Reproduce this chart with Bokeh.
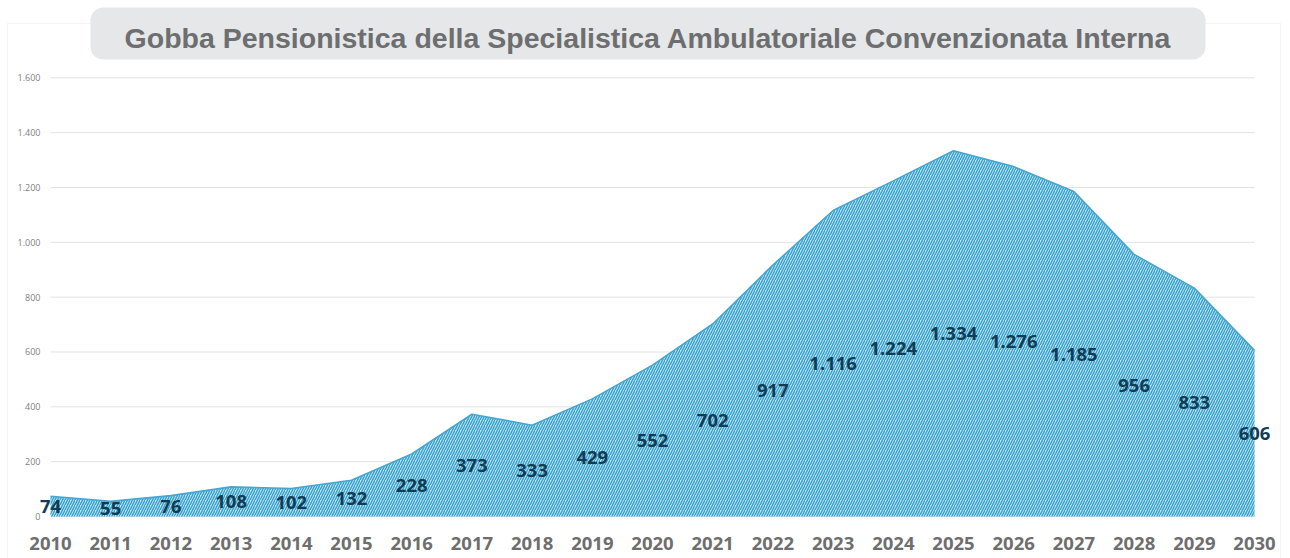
from bokeh.plotting import figure
from bokeh.models import ColumnDataSource, Label, BoxAnnotation, Range1d
from bokeh.core.properties import value
from bokeh.embed import file_html
from bokeh.resources import INLINE

title_text = "Gobba Pensionistica della Specialistica Ambulatoriale Convenzionata Interna"
years = [2010, 2011, 2012, 2013, 2014, 2015, 2016, 2017, 2018, 2019, 2020,
         2021, 2022, 2023, 2024, 2025, 2026, 2027, 2028, 2029, 2030]
values = [74, 55, 76, 108, 102, 132, 228, 373, 333, 429, 552,
          702, 917, 1116, 1224, 1334, 1276, 1185, 956, 833, 606]
y_ticks = [0, 200, 400, 600, 800, 1000, 1200, 1400, 1600]
y_tick_labels = ["0", "200", "400", "600", "800", "1.000", "1.200", "1.400", "1.600"]


def fmt(v):
    return f"{v:,}".replace(",", ".")


W, H = 1290, 558
# layout of the plotting region (pixels)
X_LEFT_PX, X_RIGHT_PX = 50, 1254
Y_ZERO_PX, Y_TOP_PX = 516, 77.3
PXY = (X_RIGHT_PX - X_LEFT_PX) / (years[-1] - years[0])
PPU = (Y_ZERO_PX - Y_TOP_PX) / y_ticks[-1]
x0 = years[0] - X_LEFT_PX / PXY
x1 = years[-1] + (W - X_RIGHT_PX) / PXY
y0 = -(H - Y_ZERO_PX) / PPU
y1 = y_ticks[-1] + Y_TOP_PX / PPU


def sx(px):
    return x0 + px / PXY


def sy(py):
    return y1 - py / PPU


src = ColumnDataSource(dict(
    x=years,
    y=values,
    zero=[0] * len(values),
    mid=[v / 2 for v in values],
    txt=[fmt(v) for v in values],
))

p = figure(width=W, height=H, output_backend="svg", toolbar_location=None,
           x_range=Range1d(x0, x1), y_range=Range1d(y0, y1),
           x_axis_type=None, y_axis_type=None,
           min_border=0, min_border_left=0, min_border_right=0,
           min_border_top=0, min_border_bottom=0)
p.outline_line_color = None
p.background_fill_color = "white"
p.border_fill_color = "white"
p.xgrid.grid_line_color = None
p.ygrid.grid_line_color = None

# outer light border of the chart
p.add_layout(BoxAnnotation(left=sx(7), right=sx(1280), top=sy(23), bottom=sy(600),
                           fill_alpha=0, line_color="#d9d9d9", line_width=1,
                           level="underlay"))

# horizontal gridlines
p.segment(x0=[years[0]] * len(y_ticks), x1=[years[-1]] * len(y_ticks),
          y0=y_ticks, y1=y_ticks, line_color="#e2e2e2", line_width=1)

# y tick labels
p.text(x=[years[0]] * len(y_ticks), y=y_ticks, text=y_tick_labels,
       x_offset=-10, text_align="right", text_baseline="middle",
       text_font=value("Open Sans"), text_font_size="9px", text_color="#808080")

# x tick labels
p.text(x=years, y=[0] * len(years), text=[str(y) for y in years],
       y_offset=27, text_align="center", text_baseline="middle",
       text_font=value("Open Sans"), text_font_style="bold",
       text_font_size="18.5px", text_color="#6e6e6e")

# area
p.varea(x="x", y1="zero", y2="y", source=src, fill_color="#c4e6f4",
        hatch_pattern="/", hatch_color="#339fce", hatch_scale=5,
        hatch_weight=1.4)
p.line(x="x", y="y", source=src, line_color="#45a6d2", line_width=1.6)

# data labels
p.text(x="x", y="mid", text="txt", source=src,
       text_align="center", text_baseline="middle",
       text_font=value("Open Sans"), text_font_style="bold",
       text_font_size="18.5px", text_color="#123c54")

# title box and title
p.add_layout(BoxAnnotation(left=sx(90), right=sx(1205), top=sy(7), bottom=sy(59),
                           fill_color="#e6e7e8", fill_alpha=1, line_color=None,
                           border_radius=13, level="overlay"))
p.add_layout(Label(x=sx(647.5), y=sy(37.5), text=title_text,
                   text_align="center", text_baseline="alphabetic",
                   text_font="Liberation Sans", text_font_style="bold",
                   text_font_size="28.5px", text_color="#6d6e70",
                   level="overlay"))

open("out.html", "w").write(file_html(p, INLINE))
